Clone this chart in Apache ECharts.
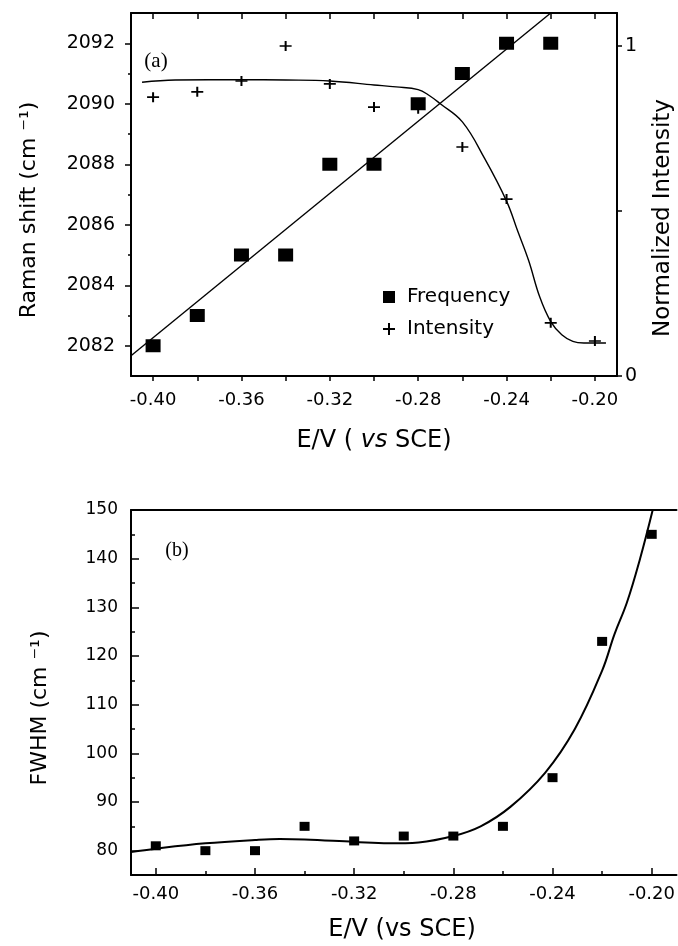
<!DOCTYPE html>
<html>
<head>
<meta charset="utf-8">
<script src="https://cdn.jsdelivr.net/npm/echarts@6/dist/echarts.min.js"></script>
<style>
  html, body { margin: 0; padding: 0; background: #fff; }
  #chart { width: 678px; height: 946px; }
</style>
</head>
<body>
<div id="chart"></div>
<script>
// Electrode potential (V vs SCE) of each measurement
const potentialV = [-0.40, -0.38, -0.36, -0.34, -0.32, -0.30, -0.28, -0.26, -0.24, -0.22, -0.20];

// Panel (a): band frequency and normalized band intensity
const ramanShift = [2082, 2083, 2085, 2085, 2088, 2088, 2090, 2091, 2092, 2092];
const normIntensity = [0.845, 0.861, 0.894, 1.0, 0.885, 0.815, 0.81, 0.694, 0.536, 0.161, 0.106];

// Linear fit of the frequency
const shiftFitV = [-0.41, -0.22];
const shiftFit = [2081.67, 2093];

// Fitted intensity curve
const intensityFitV = [-0.405, -0.39, -0.36, -0.34, -0.32, -0.30, -0.29, -0.28, -0.275, -0.27, -0.26, -0.25, -0.24, -0.235, -0.23, -0.225, -0.22, -0.215, -0.21, -0.205, -0.20, -0.195];
const intensityFit = [0.89, 0.897, 0.898, 0.897, 0.894, 0.882, 0.876, 0.868, 0.85, 0.825, 0.77, 0.66, 0.53, 0.44, 0.35, 0.24, 0.165, 0.125, 0.105, 0.1, 0.1, 0.1];

// Panel (b): band width
const fwhm = [81, 80, 80, 85, 82, 83, 83, 85, 95, 123, 145];
const fwhmFitV = [-0.41, -0.40, -0.38, -0.36, -0.35, -0.34, -0.32, -0.306, -0.294, -0.28, -0.269, -0.257, -0.243, -0.231, -0.22, -0.215, -0.21, -0.2047, -0.1996];
const fwhmFit = [79.7, 80.4, 81.5, 82.2, 82.4, 82.3, 81.8, 81.5, 81.7, 83.0, 85.0, 89.0, 96.0, 105, 117, 124.5, 131, 140, 150];

// Tick positions
const xTickValues = [-0.40, -0.38, -0.36, -0.34, -0.32, -0.30, -0.28, -0.26, -0.24, -0.22, -0.20];
const xLabelValues = [-0.40, -0.36, -0.32, -0.28, -0.24, -0.20];
const xMinorValues = [-0.38, -0.34, -0.30, -0.26, -0.22];
const shiftLabelValues = [2082, 2084, 2086, 2088, 2090, 2092];
const shiftMinorValues = [2083, 2085, 2087, 2089, 2091];
const intensityTickValues = [0, 0.5, 1];
const intensityLabelValues = [0, 1];
const fwhmLabelValues = [80, 90, 100, 110, 120, 130, 140, 150];
const fwhmMinorValues = [85, 95, 105, 115, 125, 135, 145];

const FONT = 'DejaVu Sans';
const INK = '#000';
const pair = (xs, ys) => ys.map((y, i) => [xs[i], y]);
const fmtX = v => v.toFixed(2);
const fmtPlain = v => String(v);

const plusIcon = 'path://M5,0H7V5H12V7H7V12H5V7H0V5H5Z';

const axisLine = { show: true, lineStyle: { color: INK, width: 2 } };

const chart = echarts.init(document.getElementById('chart'), null, { renderer: 'canvas' });

chart.setOption({
  animation: false,
  backgroundColor: '#fff',
  grid: [
    { left: 131, top: 13, right: 61, bottom: 570 },
    { left: 131, top: 510, right: -3, bottom: 71 }
  ],
  legend: {
    left: 383, top: 287, orient: 'vertical', padding: 0,
    itemWidth: 12, itemHeight: 12, itemGap: 12,
    itemStyle: { opacity: 1 },
    textStyle: { fontFamily: FONT, fontSize: 20, color: INK, padding: [0, 0, 0, 7] },
    data: [
      { name: 'Frequency', icon: 'rect' },
      { name: 'Intensity', icon: plusIcon }
    ]
  },
  xAxis: [
    { // panel (a) bottom
      type: 'value', gridIndex: 0, position: 'bottom', min: -0.41, max: -0.19,
      axisLine, splitLine: { show: false },
      axisTick: { show: true, inside: false, length: 5, lineStyle: { color: INK, width: 1.5 }, customValues: xTickValues },
      axisLabel: { customValues: xLabelValues, formatter: fmtX, fontFamily: FONT, fontSize: 18, color: INK, margin: 15 }
    },
    { // panel (a) top frame
      type: 'value', gridIndex: 0, position: 'top', min: -0.41, max: -0.19,
      axisLine, splitLine: { show: false },
      axisTick: { show: true, inside: true, length: 6, lineStyle: { color: INK, width: 1.5 }, customValues: xTickValues },
      axisLabel: { show: false }
    },
    { // panel (b) bottom, major
      type: 'value', gridIndex: 1, position: 'bottom', min: -0.41, max: -0.19,
      axisLine, splitLine: { show: false },
      axisTick: { show: true, inside: true, length: 7, lineStyle: { color: INK, width: 1.5 }, customValues: xLabelValues },
      axisLabel: { customValues: xLabelValues, formatter: fmtX, fontFamily: FONT, fontSize: 18, color: INK, margin: 10 }
    },
    { // panel (b) top frame
      type: 'value', gridIndex: 1, position: 'top', min: -0.41, max: -0.19,
      axisLine, splitLine: { show: false }, axisTick: { show: false }, axisLabel: { show: false }
    },
    { // panel (b) bottom, minor ticks
      type: 'value', gridIndex: 1, position: 'bottom', min: -0.41, max: -0.19,
      axisLine: { show: false }, splitLine: { show: false },
      axisTick: { show: true, inside: true, length: 4, lineStyle: { color: INK, width: 1.5 }, customValues: xMinorValues },
      axisLabel: { show: false }
    }
  ],
  yAxis: [
    { // Raman shift, major
      type: 'value', gridIndex: 0, position: 'left', min: 2081, max: 2093,
      axisLine, splitLine: { show: false },
      axisTick: { show: true, inside: false, length: 6, lineStyle: { color: INK, width: 1.5 }, customValues: shiftLabelValues },
      axisLabel: { customValues: shiftLabelValues, formatter: fmtPlain, fontFamily: FONT, fontSize: 19, color: INK, margin: 16 }
    },
    { // Raman shift, minor ticks
      type: 'value', gridIndex: 0, position: 'left', min: 2081, max: 2093,
      axisLine: { show: false }, splitLine: { show: false },
      axisTick: { show: true, inside: false, length: 3, lineStyle: { color: INK, width: 1.5 }, customValues: shiftMinorValues },
      axisLabel: { show: false }
    },
    { // normalized intensity
      type: 'value', gridIndex: 0, position: 'right', min: 0, max: 1.1,
      axisLine, splitLine: { show: false },
      axisTick: { show: true, inside: false, length: 5, lineStyle: { color: INK, width: 1.5 }, customValues: intensityTickValues },
      axisLabel: { customValues: intensityLabelValues, formatter: fmtPlain, fontFamily: FONT, fontSize: 19, color: INK, margin: 8 }
    },
    { // FWHM, major
      type: 'value', gridIndex: 1, position: 'left', min: 75, max: 150,
      axisLine, splitLine: { show: false },
      axisTick: { show: true, inside: true, length: 8, lineStyle: { color: INK, width: 1.5 }, customValues: fwhmLabelValues },
      axisLabel: { customValues: fwhmLabelValues, formatter: fmtPlain, fontFamily: FONT, fontSize: 17, color: INK, margin: 13 }
    },
    { // FWHM, minor ticks
      type: 'value', gridIndex: 1, position: 'left', min: 75, max: 150,
      axisLine: { show: false }, splitLine: { show: false },
      axisTick: { show: true, inside: true, length: 4, lineStyle: { color: INK, width: 1.5 }, customValues: fwhmMinorValues },
      axisLabel: { show: false }
    }
  ],
  series: [
    {
      name: 'Frequency', type: 'scatter', xAxisIndex: 0, yAxisIndex: 0,
      symbol: 'rect', symbolSize: [15, 13], itemStyle: { color: INK, opacity: 1 },
      data: pair(potentialV, ramanShift), z: 3
    },
    {
      name: 'Frequency fit', type: 'line', xAxisIndex: 0, yAxisIndex: 0,
      showSymbol: false, symbol: 'none', clip: true,
      lineStyle: { color: INK, width: 1.4 },
      data: pair(shiftFitV, shiftFit)
    },
    {
      name: 'Intensity', type: 'scatter', xAxisIndex: 0, yAxisIndex: 2,
      symbol: plusIcon, symbolSize: [12, 10], itemStyle: { color: INK, opacity: 1 },
      data: pair(potentialV, normIntensity), z: 3
    },
    {
      name: 'Intensity fit', type: 'line', xAxisIndex: 0, yAxisIndex: 2,
      showSymbol: false, symbol: 'none', smooth: 0.4, clip: true,
      lineStyle: { color: INK, width: 1.4 },
      data: pair(intensityFitV, intensityFit)
    },
    {
      name: 'FWHM', type: 'scatter', xAxisIndex: 2, yAxisIndex: 3,
      symbol: 'rect', symbolSize: [10, 9], itemStyle: { color: INK, opacity: 1 },
      data: pair(potentialV, fwhm), z: 3
    },
    {
      name: 'FWHM fit', type: 'line', xAxisIndex: 2, yAxisIndex: 3,
      showSymbol: false, symbol: 'none', smooth: 0.4, clip: true,
      lineStyle: { color: INK, width: 2 },
      data: pair(fwhmFitV, fwhmFit)
    }
  ],
  graphic: [
    { type: 'text', x: 29, y: 210, rotation: Math.PI / 2,
      style: { text: 'Raman shift (cm ⁻¹)', x: 0, y: 0, fontFamily: FONT, fontSize: 22, fill: INK, textAlign: 'center', textVerticalAlign: 'middle' } },
    { type: 'text', x: 663, y: 218, rotation: Math.PI / 2,
      style: { text: 'Normalized Intensity', x: 0, y: 0, fontFamily: FONT, fontSize: 23, fill: INK, textAlign: 'center', textVerticalAlign: 'middle' } },
    { type: 'text', x: 374, y: 441,
      style: { text: '{n|E/V ( }{i|vs}{n| SCE)}', x: 0, y: 0, textAlign: 'center', textVerticalAlign: 'middle',
        rich: {
          n: { fontFamily: FONT, fontSize: 24, fill: INK, color: INK },
          i: { fontFamily: FONT, fontSize: 24, fontStyle: 'italic', fill: INK, color: INK }
        } } },
    { type: 'text', x: 156, y: 61,
      style: { text: '(a)', x: 0, y: 0, fontFamily: 'Liberation Serif', fontSize: 21, fill: INK, textAlign: 'center', textVerticalAlign: 'middle' } },
    { type: 'text', x: 40, y: 708, rotation: Math.PI / 2,
      style: { text: 'FWHM (cm ⁻¹)', x: 0, y: 0, fontFamily: FONT, fontSize: 22, fill: INK, textAlign: 'center', textVerticalAlign: 'middle' } },
    { type: 'text', x: 402, y: 930,
      style: { text: 'E/V (vs SCE)', x: 0, y: 0, fontFamily: FONT, fontSize: 24, fill: INK, textAlign: 'center', textVerticalAlign: 'middle' } },
    { type: 'text', x: 177, y: 551,
      style: { text: '(b)', x: 0, y: 0, fontFamily: 'Liberation Serif', fontSize: 20, fill: INK, textAlign: 'center', textVerticalAlign: 'middle' } }
  ]
});
</script>
</body>
</html>
